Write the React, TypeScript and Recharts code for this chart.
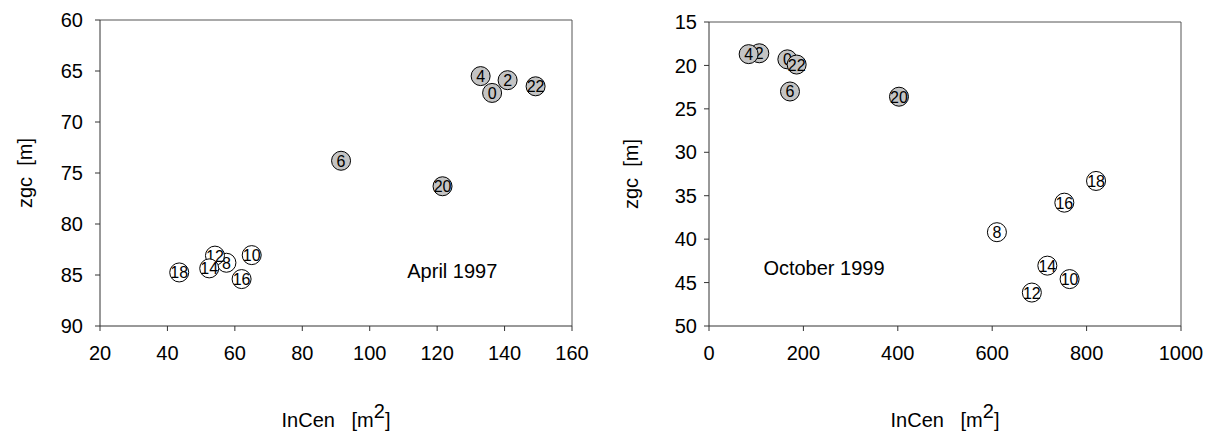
import React from 'react';
import { ScatterChart, Scatter, XAxis, YAxis, ReferenceLine, ReferenceDot, Label } from 'recharts';

// hour of day for every point (same order in both campaigns)
const hours = [0, 2, 4, 6, 8, 10, 12, 14, 16, 18, 20, 22];
// hours drawn with grey fill (night / morning), the rest are open circles
const greyHours = [0, 2, 4, 6, 20, 22];

// April 1997
const aprInCen = [136.3, 140.9, 132.9, 91.5, 57.5, 65.0, 54.1, 52.4, 62.0, 43.5, 121.6, 149.2];
const aprZgc = [67.15, 65.9, 65.5, 73.8, 83.8, 83.05, 83.1, 84.35, 85.4, 84.75, 76.3, 66.5];
const aprXTicks = [20, 40, 60, 80, 100, 120, 140, 160];
const aprYTicks = [60, 65, 70, 75, 80, 85, 90];

// October 1999
const octInCen = [166, 106.6, 84, 171.6, 610, 764, 684, 716.8, 752.8, 820, 402.5, 185.7];
const octZgc = [19.3, 18.6, 18.7, 23.0, 39.2, 44.6, 46.15, 43.05, 35.8, 33.3, 23.6, 19.9];
const octXTicks = [0, 200, 400, 600, 800, 1000];
const octYTicks = [15, 20, 25, 30, 35, 40, 45, 50];

const FONT = '"Liberation Sans", Arial, sans-serif';
const AXIS = '#333';
const GREY = '#c4c4c4';

const buildPoints = (xs: number[], ys: number[], grey: boolean) =>
    hours
        .map((h, i) => ({ x: xs[i], y: ys[i], label: String(h) }))
        .filter((p) => greyHours.includes(Number(p.label)) === grey);

const Marker = (props: any) => {
    const { cx, cy, payload, fill } = props;
    if (cx == null || cy == null) return null;
    return (
        <g>
            <circle cx={cx} cy={cy} r={9.5} fill={fill} stroke="#000" strokeWidth={1} />
            <text x={cx} y={cy + 0.5} textAnchor="middle" dominantBaseline="central" fontSize={16} fontFamily={FONT} fill="#000">
                {payload.label}
            </text>
        </g>
    );
};

const yTitle = (props: any) => {
    const vb = props.viewBox || { x: 0, y: 0, width: 0, height: 0 };
    const cx = vb.x + 25;
    const cy = vb.y + vb.height / 2;
    return (
        <text x={cx} y={cy} transform={`rotate(-90, ${cx}, ${cy})`} textAnchor="middle" dominantBaseline="central" fontSize={20} fontFamily={FONT} fill="#000" style={{ whiteSpace: 'pre' }}>
            {'zgc  [m]'}
        </text>
    );
};

const xTitle = (props: any) => {
    const vb = props.viewBox || { x: 0, y: 0, width: 0, height: 0 };
    const cx = vb.x + vb.width / 2;
    const y = vb.y + 101;
    return (
        <text x={cx} y={y} textAnchor="middle" fontSize={20} fontFamily={FONT} fill="#000" style={{ whiteSpace: 'pre' }}>
            <tspan>{'InCen   [m'}</tspan>
            <tspan dy={-9}>2</tspan>
            <tspan dy={9}>]</tspan>
        </text>
    );
};

interface PanelProps {
    xs: number[];
    ys: number[];
    xTicks: number[];
    yTicks: number[];
    width: number;
    marginTop: number;
    marginRight: number;
    yAxisWidth: number;
    yTickMargin: number;
    note: string;
    noteAt: { x: number; y: number };
}

const Panel: React.FC<PanelProps> = ({ xs, ys, xTicks, yTicks, width, marginTop, marginRight, yAxisWidth, yTickMargin, note, noteAt }) => {
    const xDomain = [xTicks[0], xTicks[xTicks.length - 1]];
    const yDomain = [yTicks[0], yTicks[yTicks.length - 1]];
    const tickStyle = { fill: '#000', fontSize: 20, fontFamily: FONT };
    return (
        <ScatterChart width={width} height={432} margin={{ top: marginTop, right: marginRight, left: 0, bottom: 0 }}>
            <XAxis
                type="number"
                dataKey="x"
                domain={xDomain}
                ticks={xTicks}
                allowDataOverflow
                height={106}
                tickSize={5}
                tickMargin={15}
                stroke={AXIS}
                tick={tickStyle}
            >
                <Label content={xTitle} />
            </XAxis>
            <YAxis
                type="number"
                dataKey="y"
                domain={yDomain}
                ticks={yTicks}
                reversed
                allowDataOverflow
                width={yAxisWidth}
                tickSize={5}
                tickMargin={yTickMargin}
                stroke={AXIS}
                tick={tickStyle}
            >
                <Label content={yTitle} />
            </YAxis>
            <ReferenceLine y={yDomain[0]} stroke="#555" />
            <ReferenceLine x={xDomain[1]} stroke="#555" />
            <ReferenceDot
                x={noteAt.x}
                y={noteAt.y}
                r={0}
                fill="none"
                stroke="none"
                label={{ value: note, position: 'center', fontSize: 20, fontFamily: FONT, fill: '#000' }}
            />
            <Scatter data={buildPoints(xs, ys, true)} fill={GREY} shape={<Marker />} isAnimationActive={false} />
            <Scatter data={buildPoints(xs, ys, false)} fill="#fff" shape={<Marker />} isAnimationActive={false} />
        </ScatterChart>
    );
};

export default function App() {
    return (
        <div style={{ position: 'absolute', left: 0, top: 0, width: 1213, height: 432, background: '#fff', fontFamily: FONT }}>
            <div style={{ position: 'absolute', left: 0, top: 0 }}>
                <Panel
                    xs={aprInCen}
                    ys={aprZgc}
                    xTicks={aprXTicks}
                    yTicks={aprYTicks}
                    width={606}
                    marginTop={20}
                    marginRight={34}
                    yAxisWidth={100}
                    yTickMargin={12}
                    note="April 1997"
                    noteAt={{ x: 124.5, y: 84.6 }}
                />
            </div>
            <div style={{ position: 'absolute', left: 606, top: 0 }}>
                <Panel
                    xs={octInCen}
                    ys={octZgc}
                    xTicks={octXTicks}
                    yTicks={octYTicks}
                    width={607}
                    marginTop={22}
                    marginRight={32}
                    yAxisWidth={103}
                    yTickMargin={7}
                    note="October 1999"
                    noteAt={{ x: 243.6, y: 43.36 }}
                />
            </div>
        </div>
    );
}
